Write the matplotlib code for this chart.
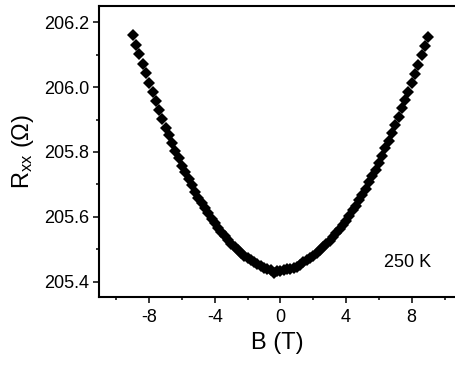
import matplotlib
matplotlib.use("Agg")
import matplotlib.pyplot as plt
from matplotlib.ticker import MultipleLocator

plt.rcParams['font.family'] = ['Liberation Sans', 'DejaVu Sans']
plt.rcParams['mathtext.default'] = 'regular'

# magnetic field (T)
field = [-9.0, -8.8, -8.6, -8.4, -8.2, -8.0, -7.8, -7.6, -7.4, -7.2,
         -7.0, -6.8, -6.6, -6.4, -6.2, -6.0, -5.8, -5.6, -5.4, -5.2,
         -5.0, -4.8, -4.6, -4.4, -4.2, -4.0, -3.8, -3.6, -3.4, -3.2,
         -3.0, -2.8, -2.6, -2.4, -2.2, -2.0, -1.8, -1.6, -1.4, -1.2,
         -1.0, -0.8, -0.6, -0.4, -0.2, 0.0, 0.2, 0.4, 0.6, 0.8,
         1.0, 1.2, 1.4, 1.6, 1.8, 2.0, 2.2, 2.4, 2.6, 2.8,
         3.0, 3.2, 3.4, 3.6, 3.8, 4.0, 4.2, 4.4, 4.6, 4.8,
         5.0, 5.2, 5.4, 5.6, 5.8, 6.0, 6.2, 6.4, 6.6, 6.8,
         7.0, 7.2, 7.4, 7.6, 7.8, 8.0, 8.2, 8.4, 8.6, 8.8, 9.0]

# longitudinal resistance (Ohm) at 250 K
rxx = [206.160, 206.130, 206.101, 206.071, 206.042, 206.012, 205.985, 205.957, 205.930, 205.902,
       205.875, 205.851, 205.828, 205.804, 205.781, 205.757, 205.737, 205.717, 205.697, 205.677,
       205.657, 205.642, 205.626, 205.611, 205.595, 205.580, 205.567, 205.555, 205.542, 205.530,
       205.517, 205.508, 205.499, 205.490, 205.481, 205.472, 205.466, 205.460, 205.455, 205.449,
       205.443, 205.440, 205.436, 205.428, 205.433, 205.434, 205.436, 205.438, 205.440, 205.444,
       205.447, 205.453, 205.460, 205.466, 205.473, 205.479, 205.488, 205.497, 205.507, 205.516,
       205.525, 205.538, 205.550, 205.563, 205.575, 205.588, 205.604, 205.620, 205.635, 205.651,
       205.667, 205.687, 205.706, 205.726, 205.745, 205.765, 205.788, 205.812, 205.835, 205.859,
       205.882, 205.908, 205.934, 205.960, 205.986, 206.012, 206.041, 206.069, 206.098, 206.126,
       206.155]

fig = plt.figure(figsize=(4.55, 3.69), dpi=100)
ax = fig.add_axes([0.218, 0.194, 0.782, 0.790])

ax.plot(field, rxx, 'D', color='black', markersize=6.3, markeredgewidth=0)

ax.set_xlim(-11.05, 10.64)
ax.set_ylim(205.352, 206.25)

ax.xaxis.set_major_locator(MultipleLocator(4))
ax.xaxis.set_minor_locator(MultipleLocator(2))
ax.yaxis.set_major_locator(MultipleLocator(0.2))
ax.yaxis.set_minor_locator(MultipleLocator(0.1))
ax.set_xticks([-8, -4, 0, 4, 8])
ax.set_xticklabels(['-8', '-4', '0', '4', '8'])

ax.spines['right'].set_visible(False)
for side in ['left', 'bottom', 'top']:
    ax.spines[side].set_linewidth(1.5)

ax.tick_params(which='major', direction='out', length=4, width=1.1,
               labelsize=13, pad=3, top=False, right=False)
ax.tick_params(which='minor', direction='out', length=2.5, width=1.1,
               top=False, right=False)
ax.tick_params(axis='x', which='major', pad=4)

ax.set_xlabel('B (T)', fontsize=17, labelpad=5)
ax.set_ylabel(r'R$_{xx}$ ($\Omega$)', fontsize=17, labelpad=6)

ax.text(0.868, 0.12, '250 K', transform=ax.transAxes, fontsize=13,
        ha='center', va='center')

fig.savefig('out.png', dpi=100)
